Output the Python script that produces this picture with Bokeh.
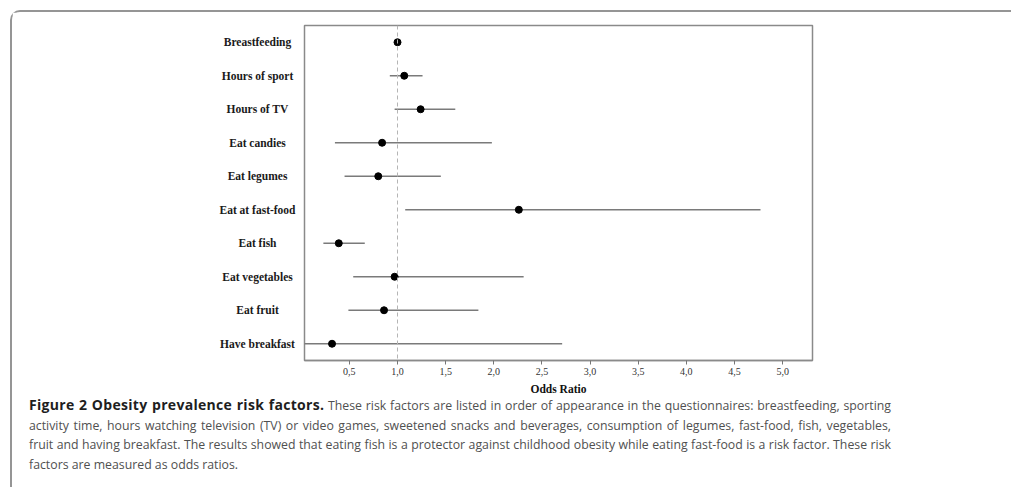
from bokeh.plotting import figure
from bokeh.models import (ColumnDataSource, FactorRange, Range1d, FixedTicker,
                          Span, Div)
from bokeh.layouts import row, column
from bokeh.core.properties import value
from bokeh.embed import file_html
from bokeh.resources import INLINE

# ---------------- data ----------------
factors = ["Breastfeeding", "Hours of sport", "Hours of TV", "Eat candies",
           "Eat legumes", "Eat at fast-food", "Eat fish", "Eat vegetables",
           "Eat fruit", "Have breakfast"]
odds_ratio = [1.00, 1.07, 1.24, 0.84, 0.80, 2.26, 0.39, 0.97, 0.86, 0.32]
ci_lower = [0.98, 0.92, 0.97, 0.35, 0.45, 1.08, 0.23, 0.54, 0.49, 0.00]
ci_upper = [1.02, 1.26, 1.60, 1.98, 1.45, 4.77, 0.66, 2.31, 1.84, 2.71]
tick_values = [0.5, 1.0, 1.5, 2.0, 2.5, 3.0, 3.5, 4.0, 4.5, 5.0]
tick_labels = ["0,5", "1,0", "1,5", "2,0", "2,5", "3,0", "3,5", "4,0", "4,5", "5,0"]
reference_value = 1.0
x_label = "Odds Ratio"
caption_bold = "Figure 2 Obesity prevalence risk factors."
caption_lines = [
    "These risk factors are listed in order of appearance in the questionnaires: breastfeeding, sporting",
    "activity time, hours watching television (TV) or video games, sweetened snacks and beverages, consumption of legumes, fast-food, fish, vegetables,",
    "fruit and having breakfast. The results showed that eating fish is a protector against childhood obesity while eating fast-food is a risk factor. These risk",
    "factors are measured as odds ratios.",
]

# ---------------- layout (page px) ----------------
ORIG = 12                     # inner origin after outer margin + border
LAB_W = 290                   # width of category-label panel
MAIN_W = 1011 - ORIG - LAB_W  # 709
FIG_H = 386
FT, FB = 25 - ORIG, 360 - ORIG   # frame top/bottom inside figures
FRAME_W = 508

src = ColumnDataSource(dict(factor=factors, odds=odds_ratio, lo=ci_lower, hi=ci_upper))
yr = FactorRange(factors=list(reversed(factors)), range_padding=0)

# --- main forest plot ---
p = figure(width=MAIN_W, height=FIG_H,
           x_range=Range1d(0.034, 5.31), y_range=yr,
           output_backend="svg", toolbar_location=None,
           min_border_left=2, min_border_right=MAIN_W - 2 - FRAME_W,
           min_border_top=FT, min_border_bottom=FIG_H - FB)
p.xgrid.visible = False
p.ygrid.visible = False
p.yaxis.visible = False
p.outline_line_color = "#8a8a8a"
p.outline_line_width = 1.5

xa = p.xaxis[0]
xa.ticker = FixedTicker(ticks=tick_values)
xa.major_label_overrides = {v: l for v, l in zip(tick_values, tick_labels)}
xa.minor_tick_line_color = None
xa.major_tick_in = 0
xa.major_tick_out = 4
xa.major_tick_line_color = "#777777"
xa.axis_line_color = "#8a8a8a"
xa.axis_line_width = 1.5
xa.major_label_text_font = "Liberation Serif"
xa.major_label_text_font_size = "10px"
xa.major_label_text_color = "#333333"
xa.major_label_standoff = 3
xa.axis_label = x_label
xa.axis_label_text_font = "Liberation Serif"
xa.axis_label_text_font_style = "bold"
xa.axis_label_text_font_size = "11.5px"
xa.axis_label_text_color = "#111111"
xa.axis_label_standoff = 5

p.add_layout(Span(location=reference_value, dimension="height",
                  line_color="#b5b5b5", line_dash="4 3", line_width=1))
p.segment(x0="lo", y0="factor", x1="hi", y1="factor", source=src,
          line_color="#7a7a7a", line_width=1.5)
p.scatter(x="odds", y="factor", source=src, size=7,
          fill_color="black", line_color="black")

# --- category label panel (shares the y range) ---
lab = figure(width=LAB_W, height=FIG_H,
             x_range=Range1d(0, LAB_W), y_range=yr,
             output_backend="svg", toolbar_location=None,
             min_border_left=0, min_border_right=0,
             min_border_top=FT, min_border_bottom=FIG_H - FB)
lab.axis.visible = False
lab.grid.visible = False
lab.outline_line_color = None
lab.text(x=257 - ORIG, y="factor", text="factor", source=src,
         text_align="center", text_baseline="middle",
         text_font=value("Liberation Serif"), text_font_style="bold",
         text_font_size="11.5px", text_color="#1a1a1a")

# --- caption (justified, as in the journal layout) ---
JUST = 'style="width:862px; text-align:justify; text-align-last:justify;"'
cap_html = (
    '<div style="position:relative; top:-8px; left:12px; white-space:nowrap; '
    'font-family:\'Open Sans\'; font-size:12.3px; line-height:19.7px; color:#505050;">'
    '<div ' + JUST + '><span style="font-weight:bold; font-size:14px; letter-spacing:0.3px; '
    'color:#1e1e1e;">' + caption_bold + '</span> ' + caption_lines[0] + '</div>'
    '<div ' + JUST + '>' + caption_lines[1] + '</div>'
    '<div ' + JUST + '>' + caption_lines[2] + '</div>'
    '<div>' + caption_lines[3] + '</div>'
    '</div>'
)
cap = Div(text=cap_html, width=MAIN_W + LAB_W, height=487 - ORIG - FIG_H)

layout = column(row(lab, p), cap,
                styles={"margin-left": "10px", "margin-top": "10px",
                        "border-left": "2px solid #959595",
                        "border-top": "2px solid #959595",
                        "border-top-left-radius": "10px"})

open("out.html", "w").write(file_html(layout, INLINE))
